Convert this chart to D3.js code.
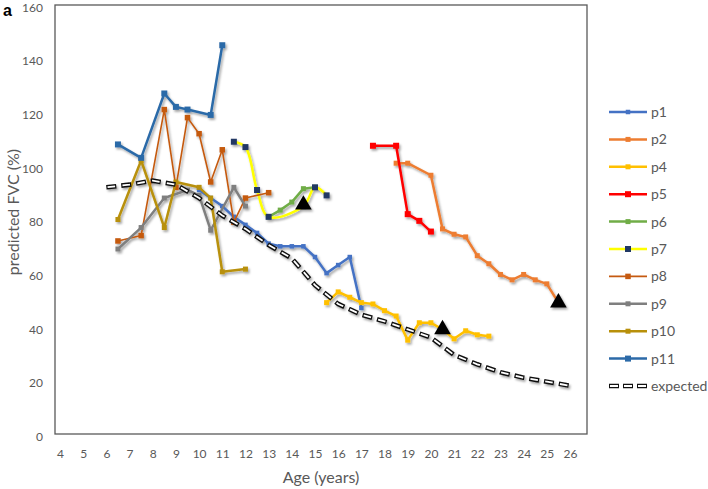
<!DOCTYPE html>
<html>
<head>
<meta charset="utf-8">
<script src="https://cdn.jsdelivr.net/npm/d3@7"></script>
<style>
  body { margin: 0; background: #fff; }
  text { font-family: Lato, "Open Sans", sans-serif; }
</style>
</head>
<body>
<svg id="chart" width="708" height="489"></svg>
<script>
// data: [age, predicted FVC %]
const p1 = [[10, 91], [10.5, 88], [11, 85], [11.5, 81], [12, 78], [12.5, 75], [13, 71], [13.5, 70], [14, 70], [14.5, 70], [15, 66], [15.5, 60], [16, 63], [16.5, 66], [17, 47]];
const p2 = [[18.5, 101], [19, 101], [20, 96.5], [20.5, 76.5], [21, 74.5], [21.5, 73.5], [22, 66.5], [22.5, 63.5], [23, 59.5], [23.5, 57.5], [24, 59.5], [24.5, 57.5], [25, 56], [25.5, 49]];
const p4 = [[15.5, 49], [16, 53], [16.5, 51], [17, 49], [17.5, 48.5], [18, 46], [18.5, 44], [19, 35], [19.5, 41.5], [20, 41.5], [20.5, 39], [21, 35.5], [21.5, 38.5], [22, 37], [22.5, 36.5]];
const p5 = [[17.5, 107.5], [18.5, 107.5], [19, 82], [19.5, 79.5], [20, 75.5]];
const p6 = [[13, 81], [13.5, 83.5], [14, 86.5], [14.5, 91.5], [15, 92]];
const p7 = [[11.5, 109], [12, 107], [12.5, 91], [13, 81], [14.5, 85], [15, 92], [15.5, 89]];
const p8 = [[6.5, 72], [7.5, 74], [8.5, 121], [9, 92], [9.5, 118], [10, 112], [10.5, 94], [11, 106], [11.5, 79], [12, 88], [13, 90]];
const p9 = [[6.5, 69], [7.5, 77], [8.5, 88], [9.5, 91], [10, 89], [10.5, 76], [11.5, 92], [12, 85]];
const p10 = [[6.5, 80], [7.5, 102], [8.5, 77], [9, 94], [10, 92], [10.5, 88], [11, 60.5], [12, 61.5]];
const p11 = [[6.5, 108], [7.5, 103], [8.5, 127], [9, 122], [9.5, 121], [10.5, 119], [11, 145]];
const expected = [[6, 92], [7, 93], [8, 94.5], [9, 93], [10, 88], [11, 81.5], [12, 76.5], [13, 70.5], [14, 65.5], [15, 55.5], [16, 48.5], [17, 44.5], [18, 42], [19, 39], [20, 36], [21, 29.5], [22, 26], [23, 23], [24, 21], [25, 19.5], [26, 18]];
const triangles = [[14.5, 85.5], [20.5, 39], [25.5, 49]];

const xTicks = d3.range(4, 27);
const yTicks = [0, 20, 40, 60, 80, 100, 120, 140, 160];

const seriesNames = ["p1", "p2", "p4", "p5", "p6", "p7", "p8", "p9", "p10", "p11"];
const seriesData = [p1, p2, p4, p5, p6, p7, p8, p9, p10, p11];

// look of each series
const styles = {
  p1: { line: "#4472C4", mark: "#4472C4", w: 2.5, m: 4.5 },
  p2: { line: "#ED7D31", mark: "#ED7D31", w: 2.5, m: 5 },
  p4: { line: "#FFC000", mark: "#FFC000", w: 2.5, m: 5 },
  p5: { line: "#FF0000", mark: "#FF0000", w: 2.5, m: 6 },
  p6: { line: "#70AD47", mark: "#70AD47", w: 2.5, m: 5 },
  p7: { line: "#FFFF00", mark: "#203864", w: 2.5, m: 6, smooth: true },
  p8: { line: "#C55A11", mark: "#C55A11", w: 1.6, m: 5.5 },
  p9: { line: "#7F7F7F", mark: "#7F7F7F", w: 2.5, m: 5 },
  p10: { line: "#B8900A", mark: "#B8900A", w: 2.5, m: 5 },
  p11: { line: "#2C6AA8", mark: "#2C6AA8", w: 2.5, m: 6 }
};

const svg = d3.select("#chart");
const plotLeft = 55, plotRight = 587, plotTop = 5, plotBottom = 434;

const xScale = d3.scaleLinear().domain([4, 26]).range([60, 570]);
const yScale = d3.scaleLinear().domain([0, 160]).range([plotBottom, plotTop]);

const defs = svg.append("defs");
const shadow = defs.append("filter")
  .attr("id", "shadow")
  .attr("x", "-20%").attr("y", "-20%")
  .attr("width", "140%").attr("height", "140%");
shadow.append("feDropShadow")
  .attr("dx", 1.5)
  .attr("dy", 2)
  .attr("stdDeviation", 1.3)
  .attr("flood-color", "#000")
  .attr("flood-opacity", 0.35);

// plot frame
svg.append("rect")
  .attr("x", plotLeft)
  .attr("y", plotTop)
  .attr("width", plotRight - plotLeft)
  .attr("height", plotBottom - plotTop)
  .attr("fill", "none")
  .attr("stroke", "#595959")
  .attr("stroke-width", 1.3);

// y axis labels (sit a little below their value, as in the original)
const yAxis = d3.axisLeft(yScale).tickValues(yTicks).tickSize(0).tickPadding(12);
svg.append("g")
  .attr("transform", `translate(${plotLeft},2.5)`)
  .call(yAxis)
  .call((g) => g.select(".domain").remove())
  .selectAll("text")
  .attr("fill", "#595959")
  .style("font-size", "12px");

// x axis labels
const xAxis = d3.axisBottom(xScale).tickValues(xTicks).tickSize(0).tickPadding(15).tickFormat(d3.format("d"));
svg.append("g")
  .attr("transform", `translate(0,${plotBottom})`)
  .call(xAxis)
  .call((g) => g.select(".domain").remove())
  .selectAll("text")
  .attr("fill", "#595959")
  .style("font-size", "12px");

svg.append("text")
  .attr("x", (plotLeft + plotRight) / 2)
  .attr("y", 483)
  .attr("text-anchor", "middle")
  .attr("fill", "#595959")
  .style("font-size", "16px")
  .text("Age (years)");

svg.append("text")
  .attr("transform", "translate(19,212) rotate(-90)")
  .attr("text-anchor", "middle")
  .attr("fill", "#595959")
  .style("font-size", "16px")
  .text("predicted FVC (%)");

svg.append("text")
  .attr("x", 3)
  .attr("y", 16)
  .style("font-family", "'Liberation Sans', Arial, sans-serif")
  .style("font-weight", "bold")
  .style("font-size", "16px")
  .text("a");

const line = d3.line()
  .x((d) => xScale(d[0]))
  .y((d) => yScale(d[1]));
const smoothLine = d3.line()
  .x((d) => xScale(d[0]))
  .y((d) => yScale(d[1]))
  .curve(d3.curveCatmullRom.alpha(0.5));

const plot = svg.append("g").attr("filter", "url(#shadow)");

seriesNames.forEach((name, i) => {
  const s = styles[name];
  const g = plot.append("g").attr("class", name);
  g.append("path")
    .datum(seriesData[i])
    .attr("d", s.smooth ? smoothLine : line)
    .attr("fill", "none")
    .attr("stroke", s.line)
    .attr("stroke-width", s.w)
    .attr("stroke-linejoin", "round");
  g.selectAll("rect")
    .data(seriesData[i])
    .join("rect")
    .attr("x", (d) => xScale(d[0]) - s.m / 2)
    .attr("y", (d) => yScale(d[1]) - s.m / 2)
    .attr("width", s.m)
    .attr("height", s.m)
    .attr("fill", s.mark);
});

// expected: hollow dashes
const expG = plot.append("g");
expG.append("path")
  .datum(expected)
  .attr("d", line)
  .attr("fill", "none")
  .attr("stroke", "#111")
  .attr("stroke-width", 4.6)
  .attr("stroke-dasharray", "10 5");
expG.append("path")
  .datum(expected)
  .attr("d", line)
  .attr("fill", "none")
  .attr("stroke", "#fff")
  .attr("stroke-width", 1.8)
  .attr("stroke-dasharray", "7.6 7.4")
  .attr("stroke-dashoffset", -1.2);

plot.append("g")
  .selectAll("path")
  .data(triangles)
  .join("path")
  .attr("transform", (d) => `translate(${xScale(d[0])},${yScale(d[1])})`)
  .attr("d", d3.symbol(d3.symbolTriangle, 120))
  .attr("fill", "#000");

// legend
const legendNames = seriesNames.concat(["expected"]);
const legend = svg.append("g");
legendNames.forEach((name, i) => {
  const ly = 112 + i * 27.4;
  const item = legend.append("g");
  if (name === "expected") {
    item.append("line")
      .attr("x1", 609).attr("x2", 647)
      .attr("y1", ly).attr("y2", ly)
      .attr("stroke", "#111")
      .attr("stroke-width", 4.6)
      .attr("stroke-dasharray", "10 4");
    item.append("line")
      .attr("x1", 609).attr("x2", 647)
      .attr("y1", ly).attr("y2", ly)
      .attr("stroke", "#fff")
      .attr("stroke-width", 1.8)
      .attr("stroke-dasharray", "8 6")
      .attr("stroke-dashoffset", -1);
  } else {
    const s = styles[name];
    item.append("line")
      .attr("x1", 609).attr("x2", 647)
      .attr("y1", ly).attr("y2", ly)
      .attr("stroke", s.line)
      .attr("stroke-width", s.w);
    item.append("rect")
      .attr("x", 628 - s.m / 2)
      .attr("y", ly - s.m / 2)
      .attr("width", s.m)
      .attr("height", s.m)
      .attr("fill", s.mark);
  }
  item.append("text")
    .attr("x", 651)
    .attr("y", ly)
    .attr("dy", "0.35em")
    .attr("fill", "#595959")
    .style("font-size", "14px")
    .text(name);
});
</script>
</body>
</html>
